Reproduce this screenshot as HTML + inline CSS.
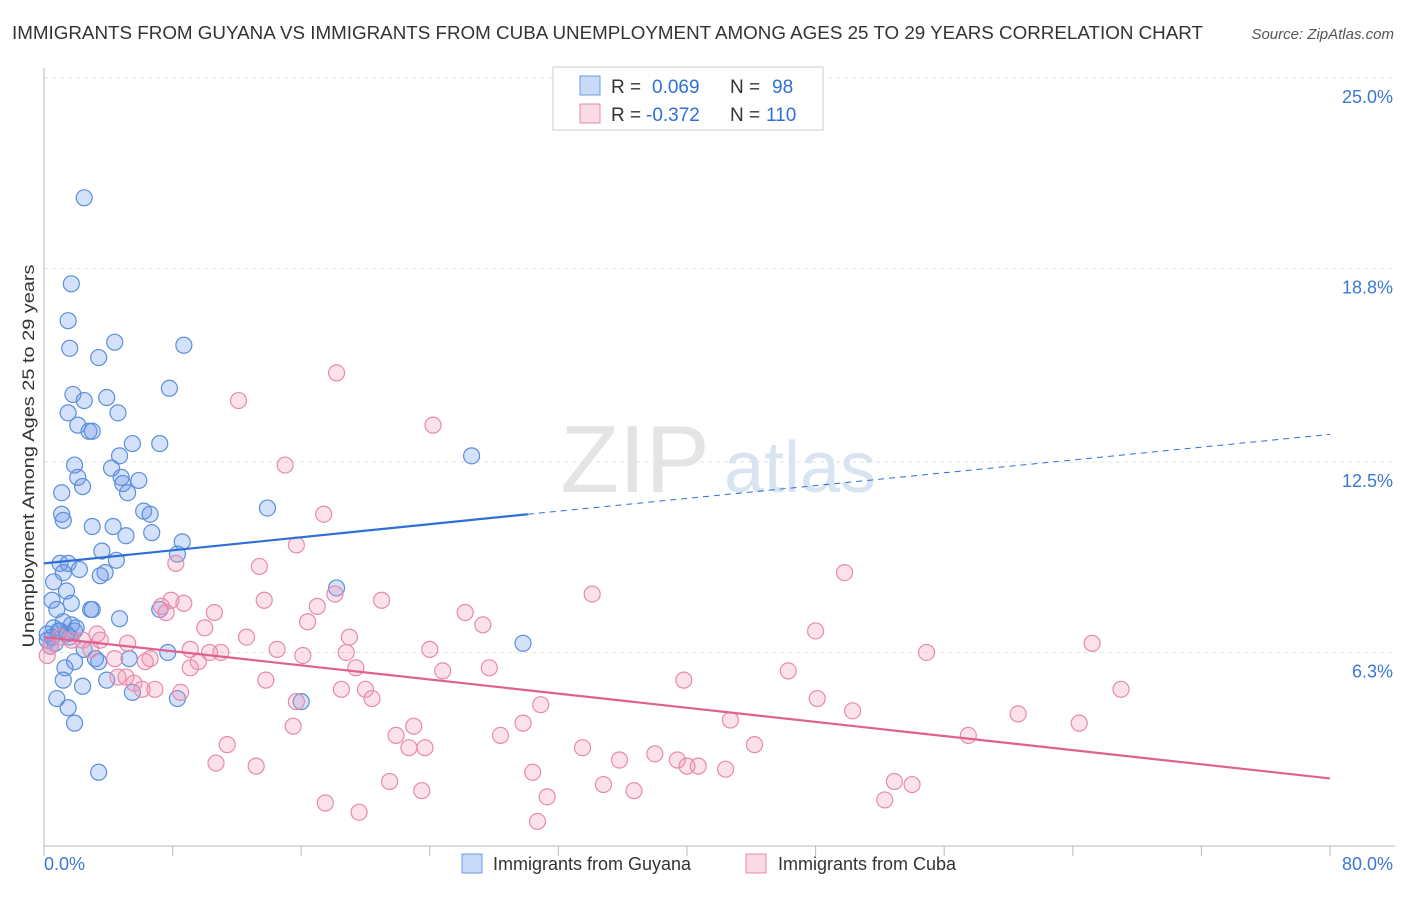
<!DOCTYPE html>
<html><head><meta charset="utf-8"><style>
body{margin:0;background:#fff;font-family:"Liberation Sans",sans-serif;}
svg text{font-family:"Liberation Sans",sans-serif;}
</style></head><body>
<svg id="chart" width="1406" height="892" xmlns="http://www.w3.org/2000/svg">
<text x="12" y="39" font-size="18" fill="#333" textLength="1191" lengthAdjust="spacingAndGlyphs">IMMIGRANTS FROM GUYANA VS IMMIGRANTS FROM CUBA UNEMPLOYMENT AMONG AGES 25 TO 29 YEARS CORRELATION CHART</text>
<text x="1394" y="39" font-size="15" fill="#555" text-anchor="end" font-style="italic">Source: ZipAtlas.com</text>
<g>
<text x="635" y="492" font-size="96" fill="#e4e4e4" text-anchor="middle" font-family="Liberation Serif">ZIP</text>
<text x="800" y="492" font-size="72" fill="#d8e4f2" text-anchor="middle">atlas</text>
</g>
<g id="grid"></g>
<g id="axes"></g>
<g id="pts"></g>
<g id="trends"></g>
<text transform="translate(34,456) rotate(-90)" font-size="17" fill="#333" text-anchor="middle" textLength="383" lengthAdjust="spacingAndGlyphs">Unemployment Among Ages 25 to 29 years</text>
<g>
<rect x="553" y="67" width="270" height="63" fill="#fff" stroke="#ccc"/>
<rect x="580" y="76" width="20" height="19" fill="rgba(100,149,237,0.35)" stroke="#6a9be0"/>
<text x="611" y="93" font-size="19" fill="#333">R = </text><text x="652" y="93" font-size="19" fill="#2f6fd6">0.069</text>
<text x="730" y="93" font-size="19" fill="#333">N = </text><text x="772" y="93" font-size="19" fill="#2f6fd6">98</text>
<rect x="580" y="104" width="20" height="19" fill="rgba(240,150,180,0.35)" stroke="#e88aab"/>
<text x="611" y="121" font-size="19" fill="#333">R = </text><text x="646" y="121" font-size="19" fill="#2f6fd6">-0.372</text>
<text x="730" y="121" font-size="19" fill="#333">N = </text><text x="766" y="121" font-size="19" fill="#2f6fd6">110</text>
</g>
<g>
<rect x="462" y="854" width="20" height="19" fill="rgba(100,149,237,0.35)" stroke="#6a9be0"/>
<text x="493" y="870" font-size="18" fill="#333">Immigrants from Guyana</text>
<rect x="746" y="854" width="20" height="19" fill="rgba(240,150,180,0.35)" stroke="#e88aab"/>
<text x="778" y="870" font-size="18" fill="#333">Immigrants from Cuba</text>
</g>
</svg>
<script>
const yTicks=[25.0,18.8,12.5,6.3];
const yTickLabels=["25.0%","18.8%","12.5%","6.3%"];
const xTickCount=10;
const xMin=0,xMax=80,yMin=0,yMax=25;
const guyanaX=[2.5,1.7,1.5,1.6,4.4,8.7,3.4,7.8,1.8,3.9,2.5,1.5,4.6,2.1,2.8,3.0,5.5,7.2,26.6,4.7,1.9,4.2,2.1,4.8,5.9,2.4,4.9,5.2,1.1,13.9,1.1,6.2,6.6,1.2,3.0,4.3,6.7,5.1,8.6,3.6,8.3,1.0,1.5,4.5,2.2,1.2,3.8,3.5,0.6,18.2,1.4,0.5,1.7,0.8,2.9,3.0,7.2,4.7,1.2,1.7,0.6,1.0,0.5,1.4,1.9,0.2,0.7,29.8,2.5,7.7,3.2,5.3,1.9,1.3,3.4,3.9,1.2,2.4,5.5,0.8,8.3,16.0,1.5,1.9,3.4,0.2,0.4,0.9,1.6,2.0];
const guyanaY=[21.1,18.3,17.1,16.2,16.4,16.3,15.9,14.9,14.7,14.6,14.5,14.1,14.1,13.7,13.5,13.5,13.1,13.1,12.7,12.7,12.4,12.3,12.0,12.0,11.9,11.7,11.8,11.5,11.5,11.0,10.8,10.9,10.8,10.6,10.4,10.4,10.2,10.1,9.9,9.6,9.5,9.2,9.2,9.3,9.0,8.9,8.9,8.8,8.6,8.4,8.3,8.0,7.9,7.7,7.7,7.7,7.7,7.4,7.3,7.2,7.1,7.0,6.8,6.9,7.0,6.7,6.6,6.6,6.4,6.3,6.1,6.1,6.0,5.8,6.0,5.4,5.4,5.2,5.0,4.8,4.8,4.7,4.5,4.0,2.4,6.9,6.5,7.0,6.8,7.1];
const cubaX=[18.2,12.1,24.2,15.0,17.4,15.7,8.2,13.4,49.8,34.1,18.1,13.7,21.0,7.9,8.7,7.3,17.0,10.6,26.2,7.6,16.4,27.3,10.0,48.0,3.3,12.6,19.0,5.2,65.2,2.4,9.1,11.0,14.5,18.8,24.0,10.3,54.9,16.1,4.4,6.6,6.3,9.6,9.1,19.4,27.7,24.8,46.3,4.6,5.1,13.8,39.8,5.6,6.1,6.9,8.5,18.5,20.0,67.0,20.4,48.1,15.7,30.9,50.3,60.6,42.7,15.5,23.0,29.8,64.4,21.9,28.4,57.5,11.4,22.7,23.7,33.5,44.2,38.0,10.7,13.2,35.8,39.4,40.0,40.7,42.4,30.4,21.5,34.8,52.9,54.0,23.5,36.7,31.3,52.3,17.5,19.6,30.7,0.2,0.4,1.0,1.7,2.9,3.5];
const cubaY=[15.4,14.5,13.7,12.4,10.8,9.8,9.2,9.1,8.9,8.2,8.2,8.0,8.0,8.0,7.9,7.8,7.8,7.6,7.6,7.6,7.3,7.2,7.1,7.0,6.9,6.8,6.8,6.6,6.6,6.7,6.4,6.3,6.4,6.3,6.4,6.3,6.3,6.2,6.1,6.1,6.0,6.0,5.8,5.8,5.8,5.7,5.7,5.5,5.5,5.4,5.4,5.3,5.1,5.1,5.0,5.1,5.1,5.1,4.8,4.8,4.7,4.6,4.4,4.3,4.1,3.9,3.9,4.0,4.0,3.6,3.6,3.6,3.3,3.2,3.2,3.2,3.3,3.0,2.7,2.6,2.8,2.8,2.6,2.6,2.5,2.4,2.1,2.0,2.1,2.0,1.8,1.8,1.6,1.5,1.4,1.1,0.8,6.2,6.5,6.8,6.7,6.4,6.7];
const guyanaTrendX=[0,30.1,80];
const guyanaTrendY=[9.2,10.8,13.4];
const cubaTrendX=[0,80];
const cubaTrendY=[6.8,2.2];

const L=44,R=1330,T=78,B=846;
const sx=v=>L+(v-xMin)/(xMax-xMin)*(R-L);
const sy=v=>B-(v-yMin)/(yMax-yMin)*(B-T);
const NS="http://www.w3.org/2000/svg";
function mk(tag,attrs,parent){const e=document.createElementNS(NS,tag);for(const k in attrs)e.setAttribute(k,attrs[k]);parent.appendChild(e);return e;}
const grid=document.getElementById('grid'),axes=document.getElementById('axes'),pts=document.getElementById('pts'),tr=document.getElementById('trends');
yTicks.forEach((t,i)=>{
  const g=mk('line',{x1:L,x2:1395,y1:sy(t),y2:sy(t),stroke:'#e2e2e2','stroke-dasharray':'4,4'},grid);
  
  
  const tx=mk('text',{x:1393,y:sy(t)+25,'font-size':18,fill:'#3a78d4','text-anchor':'end'},axes);
  tx.textContent=yTickLabels[i];
  
  
});
const ya=mk('line',{x1:L,x2:L,y1:68,y2:B,stroke:'#bbb'},axes);


const xa=mk('line',{x1:L,x2:1395,y1:B,y2:B,stroke:'#bbb'},axes);


for(let i=0;i<=xTickCount;i++){
  const v=xMin+i*(xMax-xMin)/xTickCount;
  const tk=mk('line',{x1:sx(v),x2:sx(v),y1:B,y2:B+10,stroke:'#bbb'},axes);
  
  
}
const xl0=mk('text',{x:44,y:870,'font-size':18,fill:'#3a78d4'},axes);xl0.textContent=xMin.toFixed(1)+'%';


const xl1=mk('text',{x:1393,y:870,'font-size':18,fill:'#3a78d4','text-anchor':'end'},axes);xl1.textContent=xMax.toFixed(1)+'%';



function drawPts(X,Y,fill,stroke,name){
  X.forEach((x,i)=>{
    const c=mk('circle',{cx:sx(x),cy:sy(Y[i]),r:8,fill:fill,stroke:stroke,'stroke-width':1.2},pts);
    
    
  });
}
drawPts(guyanaX,guyanaY,'rgba(100,149,237,0.28)','#5b8fd9','guyana-point');
drawPts(cubaX,cubaY,'rgba(240,150,180,0.28)','#e88aab','cuba-point');
const gs=mk('line',{x1:sx(guyanaTrendX[0]),y1:sy(guyanaTrendY[0]),x2:sx(guyanaTrendX[1]),y2:sy(guyanaTrendY[1]),stroke:'#2f6fd6','stroke-width':2.2},tr);


const gd=mk('line',{x1:sx(guyanaTrendX[1]),y1:sy(guyanaTrendY[1]),x2:sx(guyanaTrendX[2]),y2:sy(guyanaTrendY[2]),stroke:'#2f6fd6','stroke-width':1,'stroke-dasharray':'6,5'},tr);


const cl=mk('line',{x1:sx(cubaTrendX[0]),y1:sy(cubaTrendY[0]),x2:sx(cubaTrendX[1]),y2:sy(cubaTrendY[1]),stroke:'#e0608e','stroke-width':2.2},tr);


</script>
</body></html>
